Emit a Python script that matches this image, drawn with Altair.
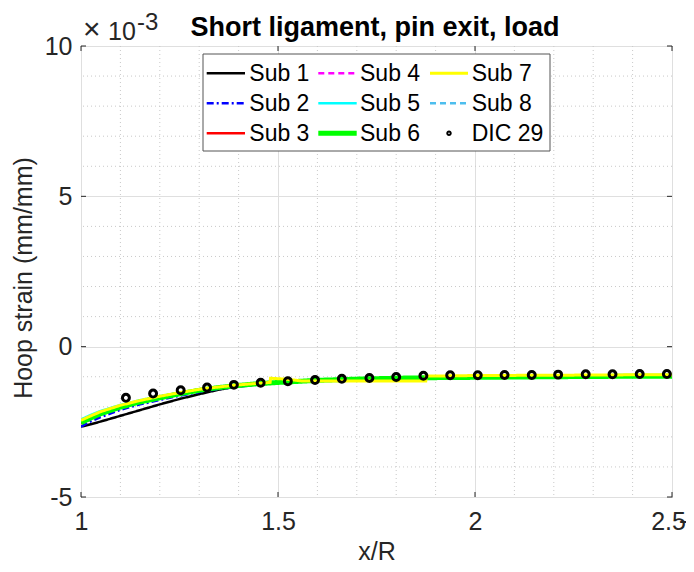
import altair as alt
import pandas as pd

# ---------------- data (strain in units of 1e-3) ----------------
sub_x = [1.0, 1.025, 1.05, 1.1, 1.15, 1.2, 1.25, 1.3, 1.35, 1.4, 1.45, 1.5,
         1.6, 1.7, 1.8, 1.9, 2.0, 2.1, 2.2, 2.3, 2.4, 2.5]

sub1_y = [-2.66, -2.58, -2.49, -2.30, -2.11, -1.92, -1.74, -1.58, -1.43, -1.31, -1.24, -1.19,
          -1.13, -1.09, -1.06, -1.04, -1.03, -1.02, -1.01, -1.00, -0.99, -0.98]
sub2_y = [-2.66, -2.48, -2.34, -2.10, -1.92, -1.77, -1.63, -1.51, -1.41, -1.33, -1.26, -1.20,
          -1.13, -1.09, -1.06, -1.04, -1.03, -1.02, -1.01, -1.00, -0.99, -0.98]
sub3_y = [-2.55, -2.39, -2.25, -2.03, -1.86, -1.71, -1.58, -1.46, -1.37, -1.30, -1.24, -1.19,
          -1.13, -1.09, -1.06, -1.04, -1.03, -1.02, -1.01, -1.00, -0.99, -0.98]
sub4_y = [-2.54, -2.38, -2.24, -2.02, -1.85, -1.70, -1.57, -1.45, -1.36, -1.29, -1.23, -1.18,
          -1.12, -1.08, -1.05, -1.03, -1.02, -1.01, -1.00, -0.99, -0.985, -0.98]
sub5_y = [-2.42, -2.27, -2.14, -1.94, -1.78, -1.65, -1.53, -1.43, -1.35, -1.28, -1.22, -1.18,
          -1.12, -1.09, -1.06, -1.04, -1.03, -1.02, -1.01, -1.00, -0.99, -0.98]
sub6_y = [-2.53, -2.37, -2.23, -2.01, -1.84, -1.70, -1.57, -1.45, -1.36, -1.29, -1.23, -1.19,
          -1.12, -1.08, -1.05, -1.03, -1.02, -1.01, -1.00, -0.99, -0.985, -0.98]
sub8_y = [-2.54, -2.38, -2.24, -2.02, -1.85, -1.70, -1.57, -1.45, -1.36, -1.29, -1.23, -1.18,
          -1.12, -1.08, -1.05, -1.03, -1.02, -1.01, -1.00, -0.99, -0.985, -0.98]

sub7_x = [1.0, 1.025, 1.05, 1.1, 1.15, 1.2, 1.25, 1.3, 1.35, 1.4, 1.45, 1.48, 1.481,
          1.52, 1.56, 1.7, 1.8, 1.875, 1.876, 2.0, 2.2, 2.5]
sub7_y = [-2.45, -2.30, -2.16, -1.95, -1.79, -1.65, -1.53, -1.42, -1.34, -1.27, -1.22, -1.19, -1.05,
          -1.08, -1.14, -1.14, -1.14, -1.14, -0.98, -0.96, -0.95, -0.93]

dic_x = [1.114, 1.183, 1.253, 1.32, 1.388, 1.456, 1.525, 1.594, 1.662, 1.732, 1.80,
         1.869, 1.937, 2.007, 2.075, 2.144, 2.211, 2.281, 2.349, 2.418, 2.487]
dic_y = [-1.70, -1.56, -1.45, -1.36, -1.27, -1.20, -1.15, -1.11, -1.07, -1.04, -1.01,
         -0.97, -0.95, -0.95, -0.94, -0.94, -0.93, -0.92, -0.92, -0.91, -0.91]

series_names = ["Sub 1", "Sub 2", "Sub 3", "Sub 4", "Sub 5", "Sub 6", "Sub 7", "Sub 8"]
series_x = [sub_x, sub_x, sub_x, sub_x, sub_x, sub_x, sub7_x, sub_x]
series_y = [sub1_y, sub2_y, sub3_y, sub4_y, sub5_y, sub6_y, sub7_y, sub8_y]
dic_name = "DIC 29"

x_ticks = [1, 1.5, 2, 2.5]
y_ticks = [-5, 0, 5, 10]
x_minor = [1.1, 1.2, 1.3, 1.4, 1.6, 1.7, 1.8, 1.9, 2.1, 2.2, 2.3, 2.4]
y_minor = [-4, -3, -2, -1, 1, 2, 3, 4, 6, 7, 8, 9]

# ---------------- styles ----------------
styles = {
    "Sub 1": dict(color="#000000", width=2.5, dash=[1, 0]),
    "Sub 2": dict(color="#0000ff", width=2.5, dash=[7, 3, 2, 3]),
    "Sub 3": dict(color="#ff0000", width=2.5, dash=[1, 0]),
    "Sub 4": dict(color="#ff00ff", width=2.5, dash=[6, 4]),
    "Sub 5": dict(color="#00ffff", width=2.5, dash=[1, 0]),
    "Sub 6": dict(color="#00ff00", width=5, dash=[1, 0]),
    "Sub 7": dict(color="#ffff00", width=3, dash=[1, 0]),
    "Sub 8": dict(color="#4dbeee", width=2.5, dash=[6, 4]),
}
draw_order = ["Sub 8", "Sub 4", "Sub 3", "Sub 1", "Sub 2", "Sub 5", "Sub 6", "Sub 7"]

W, H = 591, 451
FONT = "Liberation Sans"
TXT = "#262626"
FS = 25

xscale = alt.Scale(domain=[1, 2.5], nice=False, zero=False)
yscale = alt.Scale(domain=[-5, 10], nice=False, zero=False)

xaxis = alt.Axis(values=x_ticks, labelExpr="toString(datum.value)", grid=True,
                 gridColor="#dfdfdf", domain=False, ticks=False, labelFlush=False,
                 labelOverlap=False, labelFontSize=FS, labelFont=FONT, labelColor=TXT,
                 labelOffset={"condition": {"test": "datum.value == 2.5", "value": -4}, "value": 0},
                 labelPadding=12, title="x/R", titleFont=FONT, titleFontSize=FS,
                 titleFontWeight="normal", titleColor=TXT, titleX=W / 2, titleY=62,
                 titleAlign="center", titleBaseline="alphabetic")
yaxis = alt.Axis(values=y_ticks, labelExpr="toString(datum.value)", grid=True,
                 gridColor="#dfdfdf", domain=False, ticks=False, labelFlush=False,
                 labelOverlap=False, labelFontSize=FS, labelFont=FONT, labelColor=TXT,
                 labelPadding=9, title="Hoop strain (mm/mm)", titleFont=FONT,
                 titleFontSize=FS, titleFontWeight="normal", titleColor=TXT,
                 titleAngle=270, titleX=-58, titleY=H / 2 + 6, titleAlign="center",
                 titleBaseline="middle")

one = pd.DataFrame({"k": [0]})
layers = []

# minor grids (these layers also carry the axes)
layers.append(
    alt.Chart(pd.DataFrame({"v": x_minor})).mark_rule(
        color="#c9c9c9", strokeDash=[1, 3], strokeWidth=1
    ).encode(x=alt.X("v:Q", scale=xscale, axis=xaxis))
)
layers.append(
    alt.Chart(pd.DataFrame({"v": y_minor})).mark_rule(
        color="#c9c9c9", strokeDash=[1, 3], strokeWidth=1
    ).encode(y=alt.Y("v:Q", scale=yscale, axis=yaxis))
)

# inward ticks
tx = pd.DataFrame({"v": x_ticks})
ty = pd.DataFrame({"v": y_ticks})
layers.append(alt.Chart(tx).mark_rule(color=TXT, strokeWidth=1).encode(
    x=alt.X("v:Q", scale=xscale), y=alt.value(H), y2=alt.value(H - 5)))
layers.append(alt.Chart(tx).mark_rule(color=TXT, strokeWidth=1).encode(
    x=alt.X("v:Q", scale=xscale), y=alt.value(0), y2=alt.value(5)))
layers.append(alt.Chart(ty).mark_rule(color=TXT, strokeWidth=1).encode(
    y=alt.Y("v:Q", scale=yscale), x=alt.value(0), x2=alt.value(5)))
layers.append(alt.Chart(ty).mark_rule(color=TXT, strokeWidth=1).encode(
    y=alt.Y("v:Q", scale=yscale), x=alt.value(W), x2=alt.value(W - 5)))

# series lines
for name in draw_order:
    i = series_names.index(name)
    st = styles[name]
    df = pd.DataFrame({"x": series_x[i], "y": series_y[i]})
    layers.append(
        alt.Chart(df).mark_line(color=st["color"], strokeWidth=st["width"],
                                strokeDash=st["dash"], clip=True).encode(
            x=alt.X("x:Q", scale=xscale), y=alt.Y("y:Q", scale=yscale))
    )

# DIC points
layers.append(
    alt.Chart(pd.DataFrame({"x": dic_x, "y": dic_y})).mark_point(
        shape="circle", filled=False, color="#000000", size=48, strokeWidth=3, opacity=1
    ).encode(x=alt.X("x:Q", scale=xscale), y=alt.Y("y:Q", scale=yscale))
)

# legend box
layers.append(alt.Chart(one).mark_rect(fill="white", stroke="#555555", strokeWidth=1).encode(
    x=alt.value(122), x2=alt.value(469), y=alt.value(8), y2=alt.value(105)))

legend_names = series_names + [dic_name]
col_line_x = [(125.7, 164), (237.3, 275.7), (349, 387)]
col_text_x = [168.3, 279, 390.7]
row_y = [27.3, 57.3, 87.3]
for k, name in enumerate(legend_names):
    c, r = k // 3, k % 3
    if name in styles:
        st = styles[name]
        layers.append(alt.Chart(one).mark_rule(
            color=st["color"], strokeWidth=st["width"], strokeDash=st["dash"]).encode(
            x=alt.value(col_line_x[c][0]), x2=alt.value(col_line_x[c][1]), y=alt.value(row_y[r])))
    else:
        layers.append(alt.Chart(one).mark_point(
            shape="circle", filled=False, color="#000000", size=12, strokeWidth=2, opacity=1).encode(
            x=alt.value((col_line_x[c][0] + col_line_x[c][1]) / 2), y=alt.value(row_y[r])))
    layers.append(alt.Chart(one).mark_text(
        align="left", baseline="middle", font=FONT, fontSize=23, color="#000000").encode(
        x=alt.value(col_text_x[c]), y=alt.value(row_y[r] + 1), text=alt.value(name)))

# title and exponent
layers.append(alt.Chart(one).mark_text(
    align="center", baseline="alphabetic", font=FONT, fontSize=27, fontWeight="bold",
    color="#000000").encode(x=alt.value(294), y=alt.value(-10),
                            text=alt.value("Short ligament, pin exit, load")))
layers.append(alt.Chart(one).mark_text(
    align="left", baseline="alphabetic", font=FONT, fontSize=30, color=TXT).encode(
    x=alt.value(2), y=alt.value(-7), text=alt.value("×")))
layers.append(alt.Chart(one).mark_text(
    align="left", baseline="alphabetic", font=FONT, fontSize=FS, color=TXT).encode(
    x=alt.value(27), y=alt.value(-6), text=alt.value("10")))
layers.append(alt.Chart(one).mark_text(
    align="left", baseline="alphabetic", font=FONT, fontSize=24, color=TXT).encode(
    x=alt.value(56), y=alt.value(-16), text=alt.value("-3")))
layers.append(alt.Chart(one).mark_text(
    align="left", baseline="middle", font=FONT, fontSize=FS, color=TXT).encode(
    x=alt.value(W + 7), y=alt.value(H + 24), text=alt.value("-")))

chart = alt.layer(*layers).properties(
    width=W, height=H,
    autosize=alt.AutoSizeParams(type="none"),
    padding={"left": 73, "top": 38, "right": 14, "bottom": 67},
).configure_view(stroke="#262626", strokeWidth=1)

chart.save("out.html", embed_options={"renderer": "svg", "actions": False})
